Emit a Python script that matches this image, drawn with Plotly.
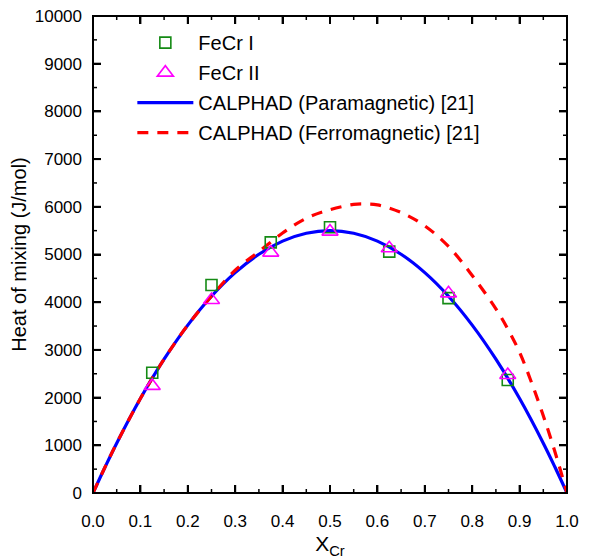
import plotly.graph_objects as go

# Data
x_points = [0.125, 0.25, 0.375, 0.5, 0.625, 0.75, 0.875]
fecr_I = [2520, 4360, 5255, 5570, 5060, 4085, 2370]
fecr_II = [2245, 4045, 5040, 5480, 5130, 4185, 2475]

x_para = [0.0, 0.025, 0.05, 0.1, 0.15, 0.2, 0.25, 0.3, 0.35, 0.4, 0.45, 0.5,
          0.55, 0.6, 0.65, 0.7, 0.75, 0.8, 0.85, 0.9, 0.95, 0.975, 1.0]
h_para = [0, 535, 1045, 1980, 2805, 3520, 4125, 4620, 5005, 5280, 5445, 5500,
          5445, 5280, 5005, 4620, 4125, 3520, 2805, 1980, 1045, 535, 0]

x_ferro = [0.0, 0.025, 0.05, 0.1, 0.15, 0.2, 0.25, 0.3, 0.35, 0.4, 0.45, 0.5,
           0.55, 0.575, 0.6, 0.65, 0.7, 0.75, 0.8, 0.85, 0.875, 0.9, 0.925,
           0.95, 0.975, 1.0]
h_ferro = [0, 535, 1045, 1980, 2805, 3520, 4125, 4670, 5060, 5450, 5760, 5940,
           6050, 6060, 6040, 5880, 5600, 5170, 4560, 3860, 3440, 2950, 2320,
           1620, 850, 0]

x_ticks = [0.0, 0.1, 0.2, 0.3, 0.4, 0.5, 0.6, 0.7, 0.8, 0.9, 1.0]
x_tick_labels = ["0.0", "0.1", "0.2", "0.3", "0.4", "0.5", "0.6", "0.7", "0.8", "0.9", "1.0"]
x_minor_ticks = [0.05, 0.15, 0.25, 0.35, 0.45, 0.55, 0.65, 0.75, 0.85, 0.95]
y_ticks = [0, 1000, 2000, 3000, 4000, 5000, 6000, 7000, 8000, 9000, 10000]
y_tick_labels = [str(v) for v in y_ticks]
y_minor_ticks = [500, 1500, 2500, 3500, 4500, 5500, 6500, 7500, 8500, 9500]

X_RANGE = [0, 1]
Y_RANGE = [0, 10000]
PLOT_W, PLOT_H = 474, 477          # plot area in pixels
MAJOR_LEN, MINOR_LEN = 8, 4        # tick lengths in pixels

FONT = "Liberation Sans, Arial, sans-serif"

fig = go.Figure()


def x_tick_segments(vals, length_px):
    dy = length_px * (Y_RANGE[1] - Y_RANGE[0]) / PLOT_H
    xs, ys = [], []
    for v in vals:
        xs += [v, v, None, v, v, None]
        ys += [Y_RANGE[0], Y_RANGE[0] + dy, None, Y_RANGE[1], Y_RANGE[1] - dy, None]
    return xs, ys


def y_tick_segments(vals, length_px):
    dx = length_px * (X_RANGE[1] - X_RANGE[0]) / PLOT_W
    xs, ys = [], []
    for v in vals:
        xs += [X_RANGE[0], X_RANGE[0] + dx, None, X_RANGE[1], X_RANGE[1] - dx, None]
        ys += [v, v, None, v, v, None]
    return xs, ys


shapes = [dict(type="rect", xref="paper", yref="paper", x0=0, y0=0, x1=1, y1=1,
               line=dict(color="black", width=2), layer="above")]


def seg_shapes(xs, ys, width):
    out = []
    for i in range(0, len(xs), 3):
        out.append(dict(type="line", xref="x", yref="y",
                        x0=xs[i], x1=xs[i + 1], y0=ys[i], y1=ys[i + 1],
                        line=dict(color="black", width=width), layer="above"))
    return out


shapes += seg_shapes(*x_tick_segments(x_ticks[1:-1], MAJOR_LEN), 2)
shapes += seg_shapes(*x_tick_segments(x_minor_ticks, MINOR_LEN), 1.5)
shapes += seg_shapes(*y_tick_segments(y_ticks[1:-1], MAJOR_LEN), 2)
shapes += seg_shapes(*y_tick_segments(y_minor_ticks, MINOR_LEN), 1.5)

fig.add_trace(go.Scatter(
    x=x_para, y=h_para, mode="lines", name="CALPHAD (Paramagnetic) [21]",
    legendgroup="c", legendrank=3,
    line=dict(color="#0000ff", width=3.2, shape="spline"),
))
fig.add_trace(go.Scatter(
    x=x_ferro, y=h_ferro, mode="lines", name="CALPHAD (Ferromagnetic) [21]",
    legendgroup="d", legendrank=4,
    line=dict(color="#ff0000", width=3.2, dash="11px,9px", shape="spline"),
))
fig.add_trace(go.Scatter(
    x=x_points, y=fecr_I, mode="markers", name="FeCr I",
    legendgroup="a", legendrank=1,
    marker=dict(symbol="square-open", size=11, color="#148a14", line=dict(width=1.6, color="#148a14")),
))
fig.add_trace(go.Scatter(
    x=x_points, y=fecr_II, mode="markers", name="FeCr II",
    legendgroup="b", legendrank=2,
    marker=dict(symbol="triangle-up-open", size=14, color="#ff00ff", line=dict(width=1.6, color="#ff00ff")),
))

fig.update_layout(
    width=593, height=560,
    margin=dict(l=85, r=34, t=8, b=75, autoexpand=False),
    paper_bgcolor="white", plot_bgcolor="white",
    font=dict(family=FONT, size=16, color="black"),
    legend=dict(
        x=0.083, y=0.985, xanchor="left", yanchor="top",
        tracegroupgap=1, itemwidth=56,
        font=dict(size=20, family=FONT, color="black"), bgcolor="rgba(0,0,0,0)",
    ),
    showlegend=True,
    shapes=shapes,
)
fig.update_xaxes(
    range=X_RANGE, tickmode="array", tickvals=x_ticks, ticktext=x_tick_labels,
    showline=False, ticks="inside", ticklen=MAJOR_LEN, tickwidth=2, tickcolor="black",
    mirror="allticks", showgrid=False, zeroline=False, automargin=False,
    tickfont=dict(size=17, family=FONT, color="black"), ticklabelstandoff=16,
    ticklabeloverflow="allow",
    title=dict(text="X<sub>Cr</sub>", font=dict(size=21, family=FONT, color="black"), standoff=6),
)
fig.update_yaxes(
    range=Y_RANGE, tickmode="array", tickvals=y_ticks, ticktext=y_tick_labels,
    showline=False, ticks="inside", ticklen=MAJOR_LEN, tickwidth=2, tickcolor="black",
    mirror="allticks", showgrid=False, zeroline=False, automargin=False,
    tickfont=dict(size=17, family=FONT, color="black"), ticklabelstandoff=10,
    ticklabeloverflow="allow",
    title=dict(text="Heat of mixing (J/mol)", font=dict(size=20, family=FONT, color="black"), standoff=3),
)

fig.write_html("out.html")
